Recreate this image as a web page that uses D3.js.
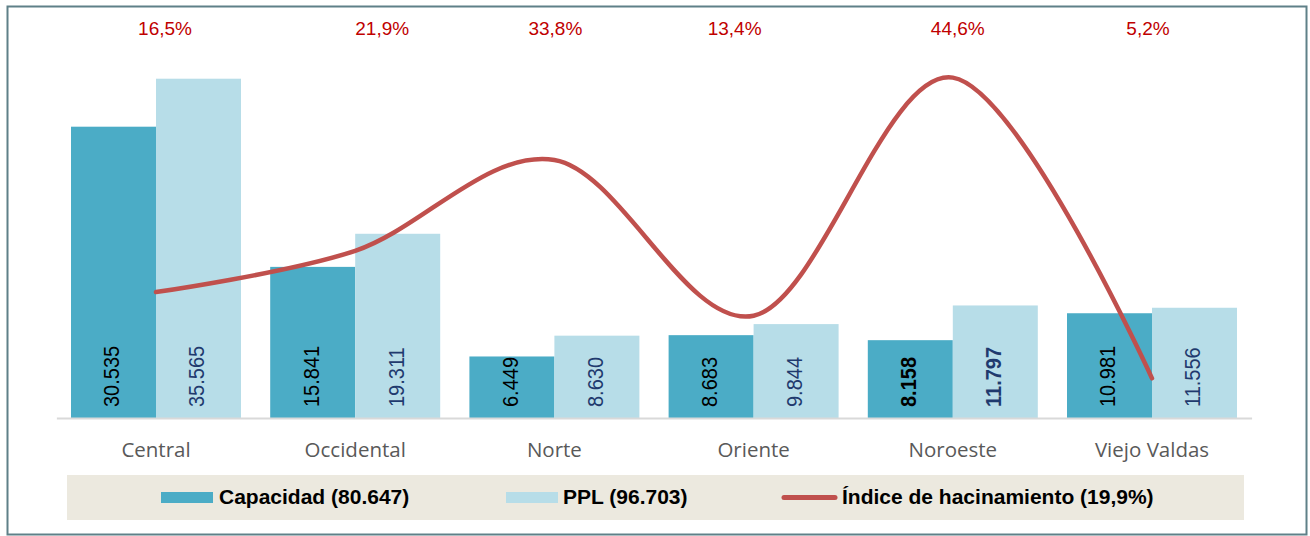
<!DOCTYPE html>
<html>
<head>
<meta charset="utf-8">
<script src="https://cdn.jsdelivr.net/npm/d3@7"></script>
<style>
  html, body { margin: 0; padding: 0; background: #ffffff; }
  svg { display: block; }
</style>
</head>
<body>
<svg id="chart" width="1310" height="536"></svg>
<script>
// ---- Data ----
const categories = ["Central", "Occidental", "Norte", "Oriente", "Noroeste", "Viejo Valdas"];
const capacidad = [30535, 15841, 6449, 8683, 8158, 10981];
const ppl = [35565, 19311, 8630, 9844, 11797, 11556];
const hacinamiento = [0.165, 0.219, 0.338, 0.134, 0.446, 0.052];
const capacidadLabels = ["30.535", "15.841", "6.449", "8.683", "8.158", "10.981"];
const pplLabels = ["35.565", "19.311", "8.630", "9.844", "11.797", "11.556"];
const hacinamientoLabels = ["16,5%", "21,9%", "33,8%", "13,4%", "44,6%", "5,2%"];
const boldLabels = ["Noroeste"];
const legendLabels = ["Capacidad (80.647)", "PPL (96.703)", "Índice de hacinamiento (19,9%)"];

// ---- Layout ----
const svg = d3.select("#chart");
const plotLeft = 56.4, plotRight = 1251.6, plotTop = 36.4, baseY = 418;
const colCap = "#4bacc6", colPpl = "#b7dde8", colLine = "#c0504d";
const font = "'Liberation Sans', Arial, sans-serif";

const x0 = d3.scaleBand().domain(categories).range([plotLeft, plotRight])
  .paddingInner(0.1466).paddingOuter(0.0733);
const x1 = d3.scaleBand().domain(["cap", "ppl"]).range([0, x0.bandwidth()]);
const y = d3.scaleLinear().domain([0, 40000]).range([baseY, plotTop]);
const yLine = d3.scaleLinear().domain([0, 0.5]).range([baseY, plotTop]);

// outer frame
svg.append("rect").attr("x", 7.5).attr("y", 6.5).attr("width", 1299).attr("height", 528)
  .attr("fill", "#ffffff").attr("stroke", "#5f8088").attr("stroke-width", 2);

// bars
const rows = categories.map((c, i) => ({ c, cap: capacidad[i], ppl: ppl[i], capL: capacidadLabels[i], pplL: pplLabels[i], bold: boldLabels.includes(c) }));
const g = svg.append("g");
const groups = g.selectAll("g.grp").data(rows).join("g").attr("class", "grp")
  .attr("transform", d => `translate(${x0(d.c)},0)`);

groups.append("rect").attr("x", x1("cap")).attr("width", x1.bandwidth())
  .attr("y", d => y(d.cap)).attr("height", d => baseY - y(d.cap)).attr("fill", colCap);
groups.append("rect").attr("x", x1("ppl")).attr("width", x1.bandwidth())
  .attr("y", d => y(d.ppl)).attr("height", d => baseY - y(d.ppl)).attr("fill", colPpl);

// axis baseline
const xAxis = d3.axisBottom(x0).tickSize(0).tickPadding(0);
const axG = svg.append("g").attr("transform", `translate(0,${baseY})`).call(xAxis);
axG.select(".domain").attr("stroke", "#d9d9d9").attr("stroke-width", 2);
axG.selectAll(".tick text")
  .attr("y", 39).attr("dy", 0)
  .attr("font-family", "'Open Sans', sans-serif").attr("font-size", 20.5).attr("fill", "#595959");

// value labels in bars (rotated)
function addBarLabel(sel, key, lbl, color) {
  sel.append("text")
    .attr("transform", d => `translate(${x1(key) + x1.bandwidth() / 2 - 2},${baseY - 11}) rotate(-90) scale(1,1.12)`)
    .attr("text-anchor", "start").attr("dominant-baseline", "central")
    .attr("font-family", font).attr("font-size", 20)
    .attr("font-weight", d => d.bold ? "bold" : "normal")
    .attr("fill", color).text(d => d[lbl]);
}
addBarLabel(groups, "cap", "capL", "#000000");
addBarLabel(groups, "ppl", "pplL", "#1f3a6e");

// line
const lineGen = d3.line()
  .x((d, i) => x0(categories[i]) + x0.bandwidth() / 2)
  .y(d => yLine(d))
  .curve(d3.curveCardinal.tension(0));
svg.append("path").datum(hacinamiento).attr("d", lineGen)
  .attr("fill", "none").attr("stroke", colLine).attr("stroke-width", 4.5)
  .attr("stroke-linecap", "round").attr("stroke-linejoin", "round");

// percentage labels at top
const pctOffsets = [9, 27, 1, -19, 5, -4];
svg.selectAll("text.pct").data(hacinamientoLabels).join("text").attr("class", "pct")
  .attr("x", (d, i) => x0(categories[i]) + x0.bandwidth() / 2 + pctOffsets[i])
  .attr("y", 35).attr("text-anchor", "middle")
  .attr("font-family", font).attr("font-size", 19).attr("fill", "#c00000")
  .text(d => d);

// legend
svg.append("rect").attr("x", 67).attr("y", 475).attr("width", 1177).attr("height", 45).attr("fill", "#ece9df");
const legY = 497.5;
const lg = svg.append("g");
lg.append("rect").attr("x", 161).attr("y", legY - 5.5).attr("width", 52).attr("height", 11).attr("fill", colCap);
lg.append("rect").attr("x", 506).attr("y", legY - 5.5).attr("width", 52).attr("height", 11).attr("fill", colPpl);
lg.append("line").attr("x1", 784).attr("x2", 835).attr("y1", legY).attr("y2", legY)
  .attr("stroke", colLine).attr("stroke-width", 5).attr("stroke-linecap", "round");
const legX = [219, 563, 842];
lg.selectAll("text").data(legendLabels).join("text")
  .attr("x", (d, i) => legX[i]).attr("y", 504)
  .attr("font-family", font).attr("font-size", 21).attr("font-weight", "bold").attr("fill", "#000000")
  .text(d => d);
</script>
</body>
</html>
